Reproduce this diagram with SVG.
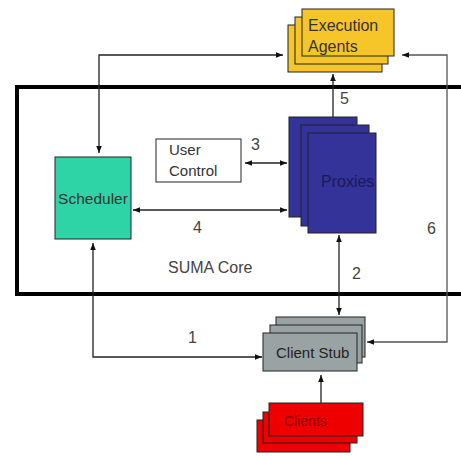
<svg xmlns="http://www.w3.org/2000/svg" width="461" height="456" viewBox="0 0 461 456">
<style>
text{font-family:"Liberation Sans",Arial,sans-serif;fill:#333}
.lbl{font-size:16px;fill:#444}
.ln{fill:none;stroke:#222;stroke-width:1.3}
.box{stroke:#222;stroke-width:1}
</style>
<defs>
<marker id="ah" viewBox="0 0 10 10" refX="10" refY="5" markerWidth="7" markerHeight="7" markerUnits="userSpaceOnUse" orient="auto-start-reverse">
<path d="M0,1 L10,5 L0,9 z" fill="#111"/>
</marker>
</defs>
<rect width="461" height="456" fill="#fff"/>
<rect id="suma-core" x="17" y="87" width="460" height="207" fill="none" stroke="#000" stroke-width="4"/>
<text x="168" y="273" style="font-size:16px;fill:#444">SUMA Core</text>
<g id="connectors">
<path class="ln" d="M99,153 V55 H283" marker-start="url(#ah)" marker-end="url(#ah)"/>
<path class="ln" d="M367,342 H447 V55 H402" style="stroke:#555" marker-start="url(#ah)" marker-end="url(#ah)"/>
<path class="ln" d="M333,117 V74" marker-end="url(#ah)"/>
<path class="ln" d="M245,163 H287" marker-start="url(#ah)" marker-end="url(#ah)"/>
<path class="ln" d="M133,210 H287" marker-start="url(#ah)" marker-end="url(#ah)"/>
<path class="ln" d="M339,235 V315" marker-start="url(#ah)" marker-end="url(#ah)"/>
<path class="ln" d="M93,243 V357 H262" marker-start="url(#ah)" marker-end="url(#ah)"/>
<path class="ln" d="M321,403 V375" marker-end="url(#ah)"/>
<text class="lbl" x="340" y="104">5</text>
<text class="lbl" x="251" y="150">3</text>
<text class="lbl" x="193" y="233">4</text>
<text class="lbl" x="352" y="279">2</text>
<text class="lbl" x="427" y="234">6</text>
<text class="lbl" x="188" y="343">1</text>
</g>
<g id="execution-agents">
<rect class="box" x="288" y="25" width="94" height="47" fill="#F5C52A"/>
<rect class="box" x="295" y="17" width="93" height="47" fill="#F5C52A"/>
<rect class="box" x="302" y="9" width="92" height="47" fill="#F5C52A"/>
<text x="308" y="31" style="font-size:16px">Execution</text>
<text x="308" y="52" style="font-size:16px">Agents</text>
</g>
<g id="scheduler">
<rect class="box" x="55" y="157" width="76" height="82" fill="#2ED4A6"/>
<text x="93" y="204" text-anchor="middle" style="font-size:15.5px">Scheduler</text>
</g>
<g id="user-control">
<rect class="box" x="156" y="139" width="85" height="43" fill="#fff"/>
<text x="169" y="155" style="font-size:15px">User</text>
<text x="169" y="176" style="font-size:15px">Control</text>
</g>
<g id="proxies">
<rect class="box" x="289" y="117" width="68" height="100" fill="#33339A"/>
<rect class="box" x="301" y="125" width="68" height="101" fill="#33339A"/>
<rect class="box" x="308" y="133" width="68" height="100" fill="#33339A"/>
<text x="321" y="187" style="font-size:16px;fill:#1a1a55">Proxies</text>
</g>
<g id="client-stub">
<rect class="box" x="276" y="317" width="89" height="40" fill="#9AA3A3"/>
<rect class="box" x="270" y="325" width="92" height="38" fill="#9AA3A3"/>
<rect class="box" x="263" y="333" width="94" height="38" fill="#9AA3A3"/>
<text x="276" y="358" style="font-size:15px;fill:#222">Client Stub</text>
</g>
<g id="clients">
<rect class="box" x="257" y="420" width="93" height="32" fill="#EE0000"/>
<rect class="box" x="263" y="412" width="94" height="31" fill="#EE0000"/>
<rect class="box" x="269" y="403" width="94" height="33" fill="#EE0000"/>
<text x="284" y="426" style="font-size:14px;fill:#8a0000">Clients</text>
</g>
</svg>
